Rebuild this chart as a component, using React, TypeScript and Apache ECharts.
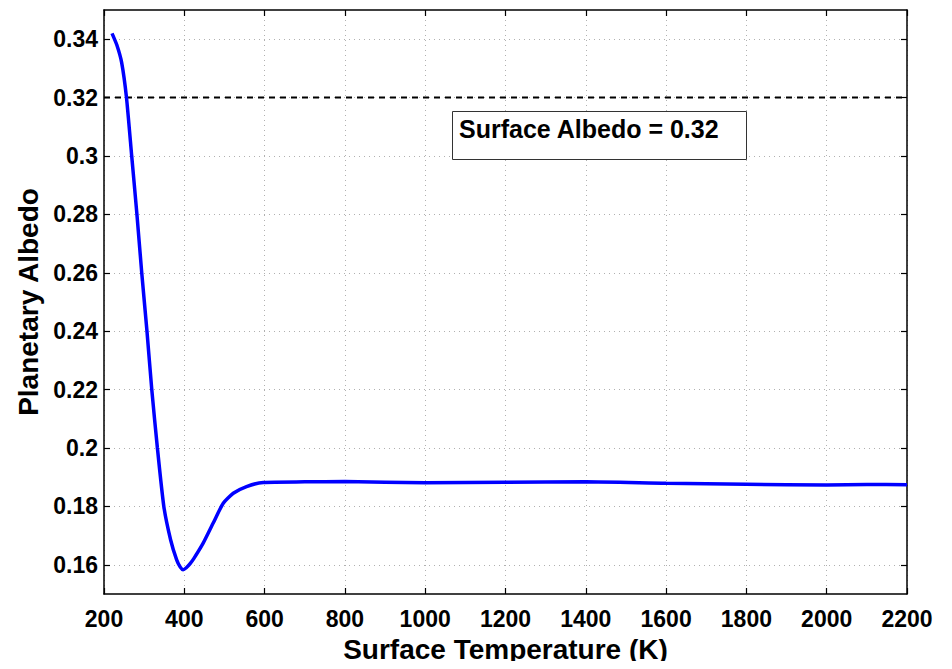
import React, { useEffect, useRef } from "react";
import * as echarts from "echarts";

const temps = [220, 232, 244, 256, 269, 282, 294, 307, 319, 333, 349, 366, 381, 390, 397, 405, 414, 424, 447, 472, 497, 522, 555, 597, 700, 800, 1000, 1200, 1400, 1600, 1800, 2000, 2100, 2200];
const planetaryAlbedo = [0.342, 0.338, 0.332, 0.32, 0.3, 0.28, 0.26, 0.24, 0.22, 0.2, 0.18, 0.1685, 0.1617, 0.1592, 0.1583, 0.159, 0.1603, 0.1622, 0.1674, 0.1743, 0.1811, 0.1845, 0.1868, 0.1882, 0.1884, 0.1885, 0.1881, 0.1883, 0.1884, 0.1879, 0.1876, 0.1873, 0.1875, 0.1874];
const surfaceAlbedo = 0.32;
const xTicks = [200, 400, 600, 800, 1000, 1200, 1400, 1600, 1800, 2000, 2200];
const yTicks = [0.16, 0.18, 0.2, 0.22, 0.24, 0.26, 0.28, 0.3, 0.32, 0.34];
const annotation = "Surface Albedo = 0.32";

const FONT = "Liberation Sans, Arial, Helvetica, sans-serif";

export default function App() {
  const ref = useRef<HTMLDivElement>(null);
  useEffect(() => {
    if (!ref.current) return;
    const chart = echarts.init(ref.current, null, { renderer: "svg" });
    const gridLine = { show: true, lineStyle: { color: "#b0b0b0", width: 1, type: [1, 4] as any } };
    const axisLine = { show: true, onZero: false, lineStyle: { color: "#000", width: 1.5 } };
    const tick = { show: true, inside: true, length: 6, lineStyle: { color: "#000", width: 1.2 } };
    chart.setOption({
      animation: false,
      backgroundColor: "#fff",
      grid: { left: 104, top: 10, width: 803, height: 584, containLabel: false },
      xAxis: [
        {
          type: "value",
          min: 200,
          max: 2200,
          interval: 200,
          position: "bottom",
          axisLine,
          axisTick: { ...tick, customValues: xTicks },
          splitLine: gridLine,
          axisLabel: {
            customValues: xTicks,
            color: "#000",
            fontSize: 23,
            fontWeight: "bold",
            fontFamily: FONT,
            margin: 13,
            formatter: (v: number) => String(v),
          },
          name: "Surface Temperature (K)",
          nameLocation: "middle",
          nameGap: 41,
          nameTextStyle: { color: "#000", fontSize: 28, fontWeight: "bold", fontFamily: FONT },
        },
        {
          type: "value",
          min: 200,
          max: 2200,
          interval: 200,
          position: "top",
          axisLine,
          axisTick: tick,
          splitLine: { show: false },
          axisLabel: { show: false },
        },
      ],
      yAxis: [
        {
          type: "value",
          min: 0.15,
          max: 0.35,
          position: "left",
          axisLine,
          axisTick: { ...tick, customValues: yTicks },
          splitLine: gridLine,
          axisLabel: {
            customValues: yTicks,
            color: "#000",
            fontSize: 23,
            fontWeight: "bold",
            fontFamily: FONT,
            margin: 6,
            formatter: (v: number) => String(Math.round(v * 100) / 100),
          },
          name: "Planetary Albedo",
          nameLocation: "middle",
          nameGap: 62,
          nameTextStyle: { color: "#000", fontSize: 28, fontWeight: "bold", fontFamily: FONT },
        },
        {
          type: "value",
          min: 0.15,
          max: 0.35,
          position: "right",
          axisLine,
          axisTick: { ...tick, customValues: yTicks },
          splitLine: { show: false },
          axisLabel: { show: false },
        },
      ],
      series: [
        {
          type: "line",
          data: temps.map((t, i) => [t, planetaryAlbedo[i]]),
          smooth: 0.2,
          showSymbol: false,
          lineStyle: { color: "#0000ff", width: 3.5 },
          z: 5,
        },
        {
          type: "line",
          data: [
            [200, surfaceAlbedo],
            [2200, surfaceAlbedo],
          ],
          showSymbol: false,
          lineStyle: { color: "#000", width: 2, type: [6, 5] as any },
          z: 4,
        },
      ],
      graphic: [
        {
          type: "rect",
          left: 452,
          top: 111,
          shape: { width: 294, height: 48 },
          style: { fill: "#fff", stroke: "#333", lineWidth: 1 },
          z: 10,
        },
        {
          type: "text",
          left: 459,
          top: 116,
          style: {
            text: annotation,
            fill: "#000",
            font: `bold 25px ${FONT}`,
          },
          z: 11,
        },
      ],
    });
    return () => chart.dispose();
  }, []);
  return <div ref={ref} style={{ width: 952, height: 669, margin: -8 }} />;
}
